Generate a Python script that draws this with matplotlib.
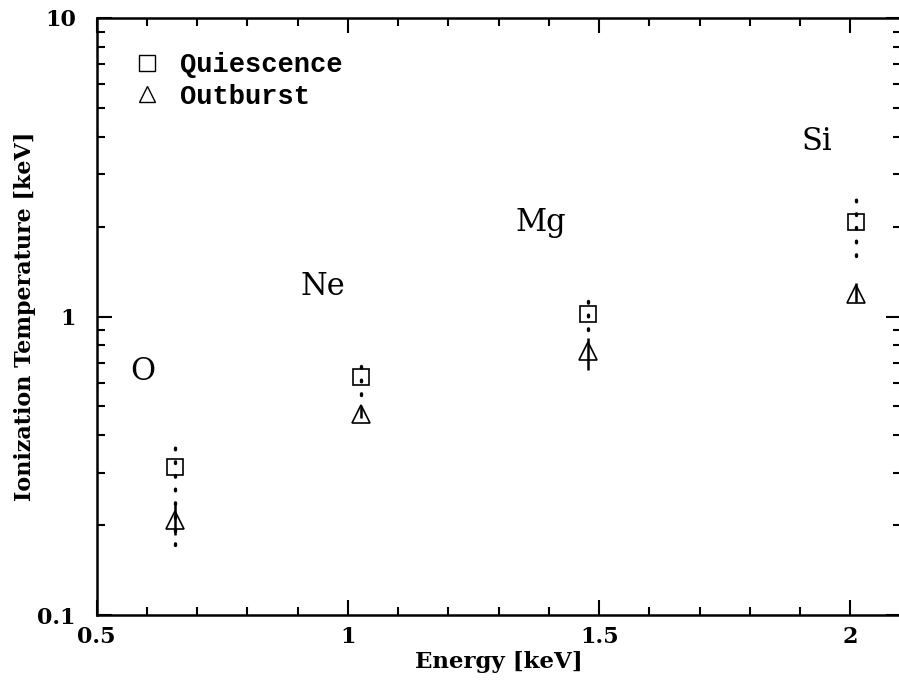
import numpy as np
import matplotlib.pyplot as plt
from matplotlib.ticker import MultipleLocator, LogLocator, FixedLocator, NullFormatter

# =====================================================
# Data
# =====================================================

elements = ['O', 'Ne', 'Mg', 'Si']
energy = [0.655, 1.025, 1.478, 2.012]

quiet_T = [0.313, 0.627, 1.02, 2.08]
quiet_lo = [0.172, 0.545, 0.90, 1.60]
quiet_hi = [0.372, 0.715, 1.20, 2.55]

burst_T = [0.208, 0.472, 0.765, 1.19]
burst_lo = [0.185, 0.456, 0.662, 1.12]
burst_hi = [0.234, 0.500, 0.847, 1.29]

label_x = [0.567, 0.905, 1.334, 1.903]
label_y = [0.652, 1.26, 2.07, 3.85]

# =====================================================
# Plot
# =====================================================

plt.rcParams['font.family'] = 'DejaVu Serif'

fig = plt.figure(figsize=(8.99, 6.87), dpi=100)
ax = fig.add_axes([0.1076, 0.1048, 0.8943, 0.869])

quiet_T = np.array(quiet_T)
burst_T = np.array(burst_T)

sq, = ax.plot(energy, quiet_T, 's', ms=11, mfc='none', mec='black',
              mew=1.2, linestyle='none', label='Quiescence')
tri, = ax.plot(energy, burst_T, '^', ms=13, mfc='none', mec='black',
               mew=1.2, linestyle='none', label='Outburst')

eb = ax.errorbar(
    energy, quiet_T,
    yerr=[quiet_T - np.array(quiet_lo), np.array(quiet_hi) - quiet_T],
    fmt='none', ecolor='black', elinewidth=2.4, capsize=0
)
eb[2][0].set_linestyle((0, (0.5, 3.6)))
eb[2][0].set_capstyle('round')

ax.errorbar(
    energy, burst_T,
    yerr=[burst_T - np.array(burst_lo), np.array(burst_hi) - burst_T],
    fmt='none', ecolor='black', elinewidth=1.8, capsize=0
)

for name, xv, yv in zip(elements, label_x, label_y):
    ax.text(xv, yv, name, fontsize=22, family='DejaVu Serif',
            ha='left', va='center')

ax.set_yscale('log')
ax.set_xlim(0.5, 2.1)
ax.set_ylim(0.1, 10)

ax.xaxis.set_major_locator(FixedLocator([0.5, 1.0, 1.5, 2.0]))
ax.xaxis.set_major_formatter(plt.FuncFormatter(lambda v, p: f'{v:g}'))
ax.xaxis.set_minor_locator(MultipleLocator(0.1))
ax.yaxis.set_major_locator(LogLocator(base=10))
ax.yaxis.set_major_formatter(plt.FuncFormatter(lambda v, p: f'{v:g}'))
ax.yaxis.set_minor_locator(LogLocator(base=10, subs=np.arange(2, 10)))
ax.yaxis.set_minor_formatter(NullFormatter())

ax.tick_params(which='both', direction='in', top=True, right=True,
               width=1.5, labelsize=16)
ax.tick_params(axis='x', pad=8)
ax.tick_params(axis='y', pad=15)
ax.tick_params(which='major', length=11)
ax.tick_params(which='minor', length=6)
for lab in ax.get_xticklabels() + ax.get_yticklabels():
    lab.set_fontweight('bold')

for s in ax.spines.values():
    s.set_linewidth(1.8)

ax.set_xlabel('Energy [keV]', fontsize=16.5, fontweight='bold', labelpad=2)
ax.set_ylabel('Ionization Temperature [keV]', fontsize=16,
              fontweight='bold', labelpad=1)

leg = ax.legend(handles=[sq, tri], loc='upper left', frameon=False,
                handletextpad=0.6, borderaxespad=0.86,
                labelspacing=0.2, handlelength=1.2,
                prop={'family': 'Liberation Mono', 'weight': 'bold',
                      'size': 19.5})
for h in leg.legend_handles:
    h.set_markersize(11)
    h.set_markeredgewidth(1.0)

fig.savefig('out.png', dpi=100)
